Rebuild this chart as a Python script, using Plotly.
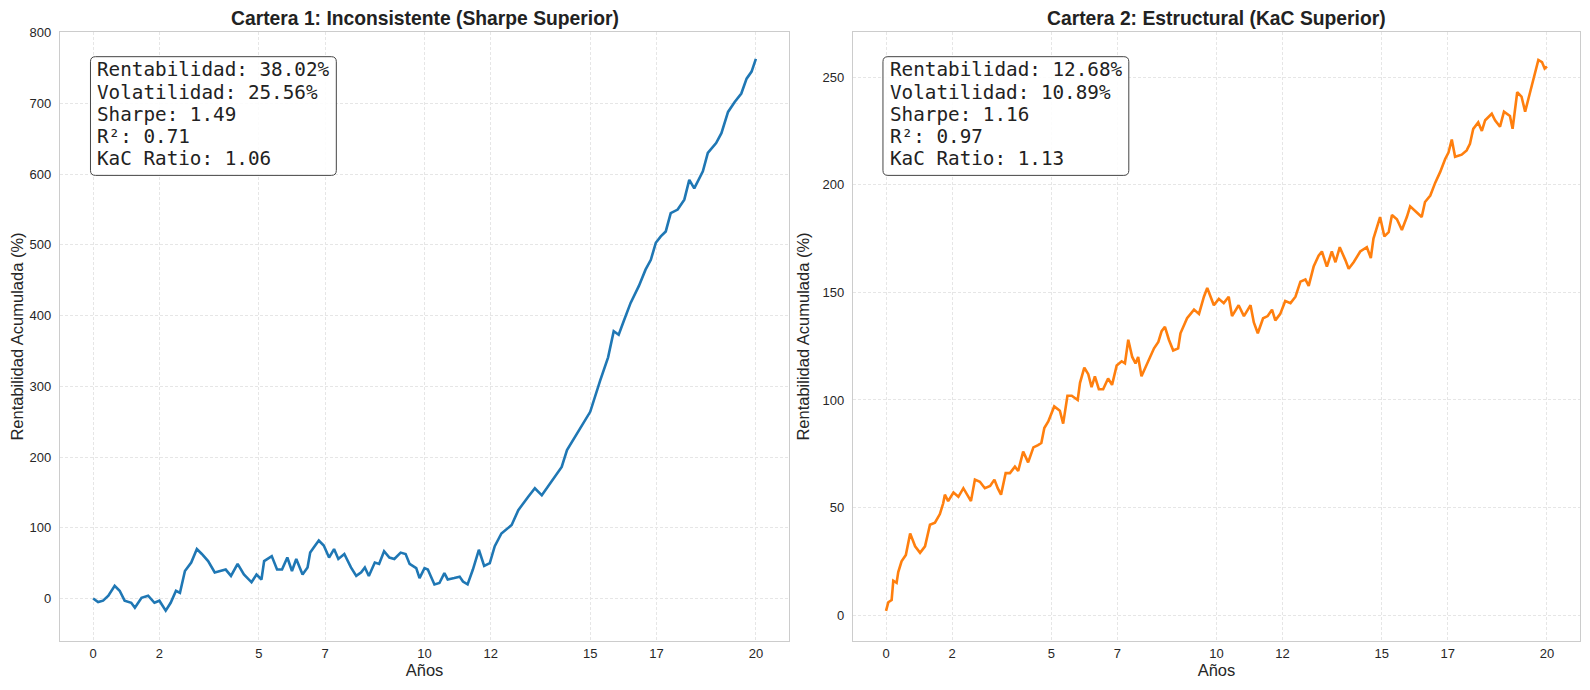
import plotly.graph_objects as go
from plotly.subplots import make_subplots

# Cartera 1 (Sharpe superior)
years_1 = [0.0, 0.15, 0.3, 0.46, 0.65, 0.8, 0.95, 1.15, 1.26, 1.46, 1.66, 1.85, 2.0, 2.19, 2.34,
           2.5, 2.62, 2.77, 2.96, 3.13, 3.28, 3.47, 3.67, 3.85, 4.0, 4.16, 4.36, 4.55, 4.78, 4.93,
           5.08, 5.16, 5.39, 5.55, 5.7, 5.86, 6.0, 6.13, 6.32, 6.47, 6.55, 6.7, 6.81, 6.96, 7.12,
           7.27, 7.4, 7.58, 7.78, 7.94, 8.09, 8.2, 8.32, 8.5, 8.63, 8.78, 8.94, 9.09, 9.28, 9.43,
           9.55, 9.75, 9.85, 10.0, 10.1, 10.3, 10.45, 10.6, 10.7, 10.9, 11.06, 11.16, 11.3, 11.46,
           11.64, 11.8, 11.97, 12.12, 12.32, 12.63, 12.83, 13.13, 13.33, 13.54, 13.8, 13.94, 14.14,
           14.3, 14.55, 14.8, 15.0, 15.3, 15.54, 15.71, 15.86, 16.01, 16.22, 16.47, 16.67, 16.83,
           16.98, 17.13, 17.28, 17.43, 17.64, 17.84, 17.99, 18.14, 18.4, 18.55, 18.8, 18.96, 19.16,
           19.36, 19.56, 19.72, 19.87, 20.0]
rent_1 = [0, -5, -3, 4, 18, 11, -3, -6, -13, 1, 4, -6, -3, -17, -6,
          11, 8, 39, 51, 70, 63, 53, 37, 39, 41, 32, 49, 34, 23, 34,
          27, 53, 60, 41, 41, 58, 39, 56, 34, 44, 65, 75, 82, 75, 58,
          70, 56, 63, 44, 32, 37, 44, 32, 51, 49, 67, 58, 56, 65, 63,
          49, 43, 29, 43, 41, 20, 22, 36, 27, 29, 31, 24, 20, 41,
          69, 46, 50, 74, 92, 104, 125, 144, 156, 146, 163, 172, 186,
          210, 229, 250, 264, 308, 341, 378, 373, 392, 418, 442, 465, 479,
          503, 512, 519, 545, 550, 564, 592, 580, 604, 630, 644, 658, 688,
          702, 714, 735, 745, 763]

# Cartera 2 (KaC superior)
years_2 = [0.0, 0.07, 0.17, 0.22, 0.32, 0.37, 0.47, 0.6, 0.73, 0.88, 1.03, 1.18, 1.33, 1.48, 1.63,
           1.73, 1.78, 1.88, 2.04, 2.19, 2.34, 2.49, 2.57, 2.69, 2.84, 2.99, 3.15, 3.28, 3.38, 3.48,
           3.62, 3.75, 3.9, 4.0, 4.15, 4.3, 4.46, 4.6, 4.7, 4.79, 4.91, 5.09, 5.26, 5.36, 5.49,
           5.62, 5.8, 5.87, 6.0, 6.12, 6.22, 6.32, 6.44, 6.57, 6.72, 6.84, 6.98, 7.13, 7.23, 7.33,
           7.45, 7.55, 7.63, 7.73, 7.88, 7.98, 8.11, 8.24, 8.34, 8.44, 8.56, 8.69, 8.84, 8.91, 9.11,
           9.32, 9.47, 9.62, 9.72, 9.92, 10.07, 10.22, 10.37, 10.47, 10.67, 10.83, 11.03, 11.13,
           11.25, 11.41, 11.55, 11.68, 11.78, 11.93, 12.08, 12.24, 12.39, 12.54, 12.69, 12.79,
           12.94, 13.09, 13.19, 13.34, 13.49, 13.6, 13.73, 13.9, 14.0, 14.15, 14.35, 14.55, 14.67,
           14.75, 14.95, 15.08, 15.21, 15.31, 15.46, 15.61, 15.76, 15.86, 16.01, 16.21, 16.31,
           16.47, 16.62, 16.77, 16.92, 17.02, 17.12, 17.22, 17.42, 17.57, 17.67, 17.77, 17.92,
           18.03, 18.13, 18.33, 18.43, 18.58, 18.7, 18.88, 18.96, 19.1, 19.23, 19.34, 19.49, 19.61,
           19.74, 19.85, 19.93, 20.0]
rent_2 = [2, 6, 7, 16, 15, 20, 25, 28, 38, 32, 29, 32, 42, 43, 47,
          52, 56, 53, 57, 55, 59, 55, 53, 63, 62, 59, 60, 63, 59, 56,
          66, 66, 69, 67, 76, 71, 78, 79, 80, 87, 90, 97, 95, 89, 102,
          102, 100, 108, 115, 112, 106, 111, 105, 105, 110, 107, 116, 118, 117, 128,
          120, 117, 120, 111, 116, 119, 124, 127, 132, 134, 128, 123, 124, 131, 138,
          142, 140, 148, 152, 144, 147, 145, 148, 139, 144, 139, 144, 136,
          131, 138, 139, 142, 137, 140, 146, 145, 148, 155, 156, 153,
          162, 167, 169, 162, 169, 164, 171, 165, 161, 164, 169, 171, 166,
          175, 185, 176, 178, 186, 184, 179, 185, 190, 188, 185, 192,
          195, 201, 206, 212, 215, 221, 213, 214, 216, 219, 226, 229,
          225, 230, 233, 230, 227, 234, 232, 226, 243, 241, 234, 243, 250,
          258, 257, 254, 255]

x_ticks = [0, 2, 5, 7, 10, 12, 15, 17, 20]

stats_1 = ["Rentabilidad: 38.02%", "Volatilidad: 25.56%", "Sharpe: 1.49", "R²: 0.71", "KaC Ratio: 1.06"]
stats_2 = ["Rentabilidad: 12.68%", "Volatilidad: 10.89%", "Sharpe: 1.16", "R²: 0.97", "KaC Ratio: 1.13"]

titles = ["<b>Cartera 1: Inconsistente (Sharpe Superior)</b>",
          "<b>Cartera 2: Estructural (KaC Superior)</b>"]

font_main = "Liberation Sans, Arial, sans-serif"

# la pagina html deja 8px de margen en el body: la figura se reduce para caber en la ventana
OFF = 8
W, H = 1590 - 2 * OFF, 690 - 2 * OFF
# posiciones en pixeles de pantalla
LEFT_PLOT = (59.5, 789)
RIGHT_PLOT = (853, 1580.5)
TOP, BOTTOM = 32, 641.5
ML, MR = LEFT_PLOT[0] - OFF, W - (RIGHT_PLOT[1] - OFF)
MT, MB = TOP - OFF, H - (BOTTOM - OFF)
PW, PH = W - ML - MR, H - MT - MB


def px_x(p):
    return (p - OFF - ML) / PW


def px_y(p):
    return (H - MB - (p - OFF)) / PH


fig = make_subplots(rows=1, cols=2, subplot_titles=titles)

fig.add_trace(go.Scatter(x=years_1, y=rent_1, mode="lines",
                         line=dict(color="#1f77b4", width=2.6), showlegend=False), row=1, col=1)
fig.add_trace(go.Scatter(x=years_2, y=rent_2, mode="lines",
                         line=dict(color="#ff7f0e", width=2.6), showlegend=False), row=1, col=2)

axis_style = dict(showline=True, mirror=True, linecolor="#cccccc", linewidth=1.3,
                  showgrid=True, gridcolor="#e6e6e6", griddash="3px,2px", gridwidth=0.8,
                  zeroline=False, ticks="", automargin=False,
                  tickfont=dict(size=13, color="#262626", family=font_main),
                  title_font=dict(size=16.5, color="#262626", family=font_main))

fig.update_xaxes(axis_style, tickvals=x_ticks, range=[-1, 21], title_text="Años",
                 title_standoff=4, ticklabelstandoff=0)
fig.update_yaxes(axis_style, title_text="Rentabilidad Acumulada (%)", title_standoff=8,
                 ticklabelstandoff=5, domain=[0, 1])

fig.update_xaxes(domain=[px_x(LEFT_PLOT[0]), px_x(LEFT_PLOT[1])], row=1, col=1)
fig.update_xaxes(domain=[px_x(RIGHT_PLOT[0]), px_x(RIGHT_PLOT[1])], row=1, col=2)
fig.update_yaxes(range=[-60, 801], tickvals=[0, 100, 200, 300, 400, 500, 600, 700, 800], row=1, col=1)
fig.update_yaxes(range=[-12, 271], tickvals=[0, 50, 100, 150, 200, 250], row=1, col=2)

# titulos de subplot
for ann, (a, b) in zip(fig.layout.annotations, [LEFT_PLOT, RIGHT_PLOT]):
    ann.update(x=px_x((a + b) / 2), y=px_y(18.5), yanchor="middle",
               font=dict(size=19.3, color="#222222", family=font_main))

# cuadro de estadisticas (caja redondeada + una linea por fila)
for stats, left, right in [(stats_1, 90, 336), (stats_2, 883, 1129)]:
    x0, x1, y0, y1 = px_x(left), px_x(right), px_y(56.7), px_y(175.5)
    rx, ry = 5 / PW, 5 / PH
    path = (f"M {x0 + rx},{y0} L {x1 - rx},{y0} Q {x1},{y0} {x1},{y0 - ry} "
            f"L {x1},{y1 + ry} Q {x1},{y1} {x1 - rx},{y1} "
            f"L {x0 + rx},{y1} Q {x0},{y1} {x0},{y1 + ry} "
            f"L {x0},{y0 - ry} Q {x0},{y0} {x0 + rx},{y0} Z")
    fig.add_shape(type="path", path=path, xref="paper", yref="paper",
                  line=dict(color="#444444", width=1), fillcolor="rgba(255,255,255,0.85)",
                  layer="above")
    for i, line in enumerate(stats):
        fig.add_annotation(text=line, xref="paper", yref="paper",
                           x=px_x(left + 5), y=px_y(70 + 22.08 * i),
                           xanchor="left", yanchor="middle", showarrow=False,
                           font=dict(family="DejaVu Sans Mono, monospace", size=19.3,
                                     color="#222222"))

fig.update_layout(width=W, height=H, margin=dict(l=ML, r=MR, t=MT, b=MB),
                  plot_bgcolor="white", paper_bgcolor="white",
                  font=dict(family=font_main))

fig.write_html("out.html")
